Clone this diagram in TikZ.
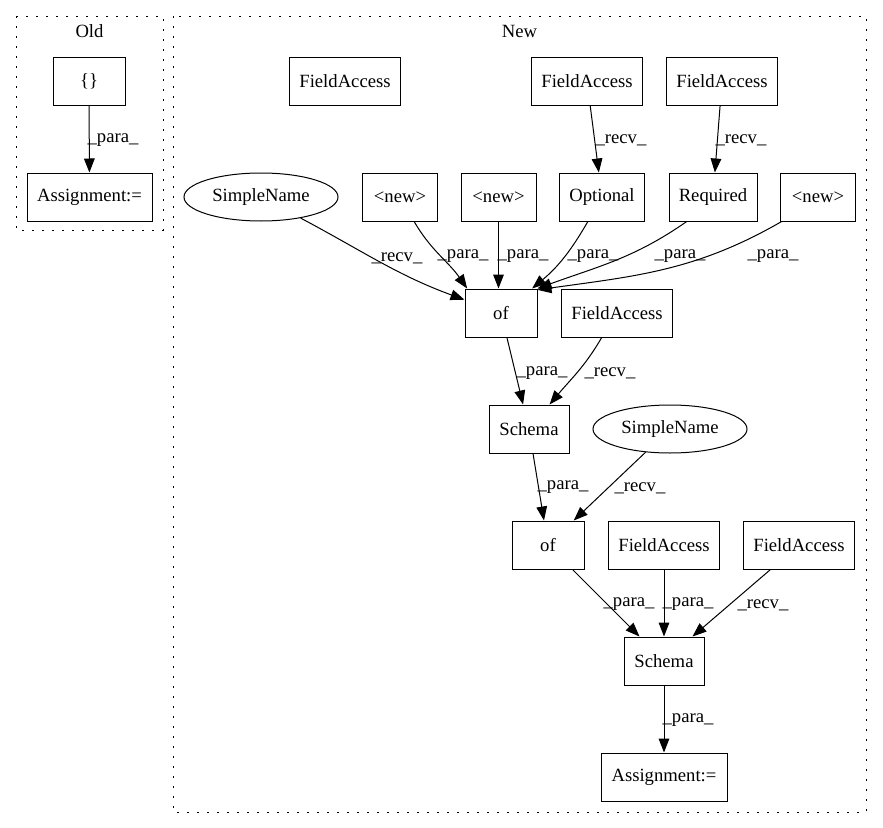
\documentclass[tikz,border=0pt]{standalone}
\usepackage{fontspec}
\setmainfont{Liberation Serif}
\usetikzlibrary{arrows.meta,shapes.geometric}
\begin{document}
\begin{tikzpicture}[x=0.75pt,y=-0.75pt,
  every node/.style={font=\fontsize{14}{16}\selectfont},
  box/.style={draw, line width=0.75pt, rectangle, inner sep=0pt, minimum height=36pt},
  oval/.style={draw, line width=0.75pt, ellipse, inner sep=0pt, minimum width=115.5pt, minimum height=36pt},
  cluster/.style={draw, line width=0.75pt, dash pattern=on 1.5pt off 6pt},
  conn/.style={line width=0.75pt, -{Triangle[length=10.5pt,width=8pt]}},
  lbl/.style={inner sep=0pt},
]
\useasboundingbox (0,0) rectangle (883,828);
% clusters
\draw[cluster] (16,16) rectangle (163,230);
\draw[cluster] (173,16) rectangle (866,812);
\node (oldlbl) at (89.5,31) {Old};
\node (newlbl) at (519.5,31) {New};

% Old
\node[box, minimum width=54pt] (brace) at (89,81) {\{\}};
\node[box, minimum width=93.75pt] (oassign) at (89.5,197) {Assignment:=};

% New row 1
\node[box, minimum width=83.25pt] (fa1) at (345,81) {FieldAccess};
\node[box, minimum width=83.25pt] (fa2) at (587,81) {FieldAccess};
\node[box, minimum width=83.25pt] (fa3) at (722,81) {FieldAccess};

% row 2
\node[oval] (sn1) at (261,197) {SimpleName};
\node[box, minimum width=56.25pt] (new1) at (400,197) {<new>};
\node[box, minimum width=56.25pt] (new2) at (498.5,197) {<new>};
\node[box, minimum width=63.75pt] (opt) at (602,197) {Optional};
\node[box, minimum width=66pt] (req) at (713,197) {Required};
\node[box, minimum width=56.25pt] (new3) at (818,197) {<new>};

% row 3
\node[box, minimum width=54pt] (of1) at (501,313) {of};
\node[box, minimum width=83.25pt] (fa4) at (617,313) {FieldAccess};

% row 4
\node[box, minimum width=60pt] (sch1) at (529,429) {Schema};
\node[oval] (sn2) at (670,429) {SimpleName};

% row 5
\node[box, minimum width=54pt] (of2) at (548,545) {of};
\node[box, minimum width=83.25pt] (fa5) at (664,545) {FieldAccess};
\node[box, minimum width=83.25pt] (fa6) at (799,545) {FieldAccess};

% row 6
\node[box, minimum width=60pt] (sch2) at (664,661) {Schema};
% row 7
\node[box, minimum width=94.5pt] (nassign) at (664,777) {Assignment:=};

% edges
\draw[conn] (brace) -- (oassign);
\draw[conn] (fa2) -- (opt);
\draw[conn] (fa3) -- (req);
\draw[conn] (sn1) to[out=-28,in=160] (of1);
\draw[conn] (new1.-60) to[out=-60,in=125] ([xshift=2pt]of1.north west);
\draw[conn] (new2.south) -- (new2.south |- of1.north);
\draw[conn] (opt.-120) to[out=-120,in=40] ([xshift=-4pt]of1.north east);
\draw[conn] (req.-137) to[out=-145,in=20] (of1.north east);
\draw[conn] (new3.-146) to[out=-150,in=8] ([yshift=-1pt]of1.north east);
\draw[conn] (of1) -- (sch1);
\draw[conn] (fa4.-122) to[out=-120,in=50] (sch1.50);
\draw[conn] (sch1) -- (of2);
\draw[conn] (sn2) -- (of2);
\draw[conn] (of2) -- (sch2);
\draw[conn] (fa5) -- (sch2);
\draw[conn] (fa6) -- (sch2);
\draw[conn] (sch2) -- (nassign);

% edge labels
\node[lbl] (l0) at (113,140) {\_para\_};
\node[lbl] (l1) at (621,140) {\_recv\_};
\node[lbl] (l2) at (741,140) {\_recv\_};
\node[lbl] (l3) at (397,258) {\_recv\_};
\node[lbl] (l4) at (463,256) {\_para\_};
\node[lbl] (l5) at (523,256) {\_para\_};
\node[lbl] (l6) at (593,256) {\_para\_};
\node[lbl] (l7) at (680,256) {\_para\_};
\node[lbl] (l8) at (773,256) {\_para\_};
\node[lbl] (l9) at (542,373) {\_para\_};
\node[lbl] (l10) at (610,373) {\_recv\_};
\node[lbl] (l11) at (563,487) {\_para\_};
\node[lbl] (l12) at (640,488) {\_recv\_};
\node[lbl] (l13) at (629,604) {\_para\_};
\node[lbl] (l14) at (688,604) {\_para\_};
\node[lbl] (l15) at (763,605) {\_recv\_};
\node[lbl] (l16) at (688,720) {\_para\_};
\end{tikzpicture}
\end{document}
